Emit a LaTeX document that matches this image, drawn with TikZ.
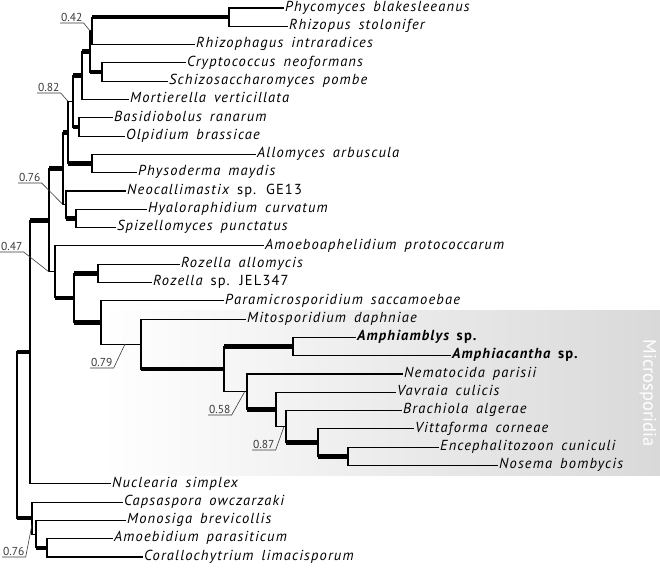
\documentclass[tikz,border=0pt]{standalone}
\usepackage{fontspec}
\setmainfont{PT Sans}
\newfontfamily\leaffont[LetterSpace=8,WordSpace=1.6]{PT Sans}
\usetikzlibrary{calc}
\definecolor{microgray}{HTML}{D9D9D9}
\definecolor{supgray}{HTML}{3A3A3A}

\begin{document}
\begin{tikzpicture}
		[x=1pt,y=-1pt,
		leaf/.style={anchor=west,inner sep=2pt,font=\leaffont\fontsize{14.5}{16}\selectfont\itshape,text height=10pt,text depth=3.5pt},
		branch/.style={line width=1.1pt,line cap=rect},
		stem/.style={line width=4.6pt},
		support/.style={anchor=south west,inner sep=1pt,text=supgray,font=\fontsize{11.5}{13}\selectfont},
		leader/.style={draw=supgray,line width=0.6pt}]
		\useasboundingbox (0,0) rectangle (660,567);

		% shaded box behind the Microsporidia
		\shade[left color=white,middle color=microgray,right color=microgray] (100,310) rectangle (660,475);
		\node[rotate=-90,text=white,font=\fontsize{18.5}{20}\selectfont] (micro) at (648,393) {Microsporidia};

		% leaves
		\node[leaf] (phy) at (283,8) {Phycomyces blakesleeanus};
		\node[leaf] (rhi) at (287,26.3) {Rhizopus stolonifer};
		\node[leaf] (rhg) at (194,44.6) {Rhizophagus intraradices};
		\node[leaf] (cry) at (185,62.9) {Cryptococcus neoformans};
		\node[leaf] (sch) at (167,81.2) {Schizosaccharomyces pombe};
		\node[leaf] (mor) at (128,99.5) {Mortierella verticillata};
		\node[leaf] (bas) at (112,117.8) {Basidiobolus ranarum};
		\node[leaf] (olp) at (124,136.1) {Olpidium brassicae};
		\node[leaf] (all) at (255,154.4) {Allomyces arbuscula};
		\node[leaf] (phs) at (136,172.7) {Physoderma maydis};
		\node[leaf] (neo) at (125,191) {Neocallimastix \upshape sp. GE13};
		\node[leaf] (hya) at (146,209.3) {Hyaloraphidium curvatum};
		\node[leaf] (spi) at (115,227.6) {Spizellomyces punctatus};
		\node[leaf] (amo) at (263,245.9) {Amoeboaphelidium protococcarum};
		\node[leaf] (roa) at (179,264.2) {Rozella allomycis};
		\node[leaf] (ros) at (151,282.5) {Rozella \upshape sp. JEL347};
		\node[leaf] (par) at (223,300.8) {Paramicrosporidium saccamoebae};
		\node[leaf] (mit) at (245,319.1) {Mitosporidium daphniae};
		\node[leaf] (amb) at (355,337.4) {\bfseries Amphiamblys \upshape sp.};
		\node[leaf] (amc) at (450,355.7) {\bfseries Amphiacantha \upshape sp.};
		\node[leaf] (nem) at (402,374) {Nematocida parisii};
		\node[leaf] (vav) at (395,392.3) {Vavraia culicis};
		\node[leaf] (bra) at (401,410.6) {Brachiola algerae};
		\node[leaf] (vit) at (413,428.9) {Vittaforma corneae};
		\node[leaf] (enc) at (438,447.2) {Encephalitozoon cuniculi};
		\node[leaf] (nos) at (497,465.5) {Nosema bombycis};
		\node[leaf] (nuc) at (110,483.8) {Nuclearia simplex};
		\node[leaf] (cap) at (122,502.1) {Capsaspora owczarzaki};
		\node[leaf] (mon) at (125,520.4) {Monosiga brevicollis};
		\node[leaf] (amp) at (112,538.7) {Amoebidium parasiticum};
		\node[leaf] (cor) at (142,557) {Corallochytrium limacisporum};

		% inner nodes of the tree
		\coordinate (pr) at (229,17.2);
		\coordinate (prr) at (92,30.9);
		\coordinate (cs) at (102,72);
		\coordinate (b1) at (90,51.5);
		\coordinate (c1) at (82,75.5);
		\coordinate (bo) at (79,127);
		\coordinate (d1) at (73,101.2);
		\coordinate (ap) at (92,163.5);
		\coordinate (e1) at (68,132.4);
		\coordinate (hs) at (76,218.5);
		\coordinate (g1) at (66,204.7);
		\coordinate (f1) at (63,168.5);
		\coordinate (rz) at (98,273.3);
		\coordinate (aa) at (293,346.5);
		\coordinate (r1) at (348,456.3);
		\coordinate (q1) at (318,442.6);
		\coordinate (p1) at (286,426.6);
		\coordinate (o1) at (276,409.5);
		\coordinate (n1) at (247,391.7);
		\coordinate (m1) at (224,369.1);
		\coordinate (l1) at (141,344.1);
		\coordinate (k1) at (101,322.5);
		\coordinate (j1) at (74,297.9);
		\coordinate (i1) at (55,271.9);
		\coordinate (h1) at (49,220.2);
		\coordinate (s1) at (30,352);
		\coordinate (am) at (47,547.9);
		\coordinate (v1) at (36,534.1);
		\coordinate (u1) at (32,518.1);
		\coordinate (root) at (17,435);

		% vertical bars of each clade
		\foreach \p/\a/\b in {pr/phy/rhi,prr/pr/rhg,b1/prr/cs,cs/cry/sch,c1/b1/mor,bo/bas/olp,
				d1/c1/bo,e1/d1/ap,ap/all/phs,f1/e1/g1,g1/neo/hs,hs/hya/spi,h1/f1/i1,i1/amo/j1,
				j1/rz/k1,rz/roa/ros,k1/par/l1,l1/mit/m1,m1/aa/n1,aa/amb/amc,n1/nem/o1,o1/vav/p1,
				p1/bra/q1,q1/vit/r1,r1/enc/nos,s1/h1/nuc,u1/cap/v1,v1/mon/am,am/amp/cor,root/s1/u1}
			\draw[branch] (\p |- \a) -- (\p |- \b);

		% thin branches
		\foreach \p/\c in {pr/phy,pr/rhi,prr/rhg,b1/prr,cs/cry,cs/sch,c1/mor,bo/bas,bo/olp,e1/d1,
				ap/all,ap/phs,g1/neo,f1/g1,hs/hya,hs/spi,i1/amo,h1/i1,rz/roa,rz/ros,k1/par,k1/l1,
				l1/mit,aa/amb,aa/amc,m1/n1,n1/nem,o1/vav,o1/p1,p1/bra,q1/vit,r1/enc,r1/nos,
				s1/nuc,u1/cap,u1/v1,v1/mon,am/amp,am/cor}
			\draw[branch] (\p |- \c) -- (\c);

		% thick branches
		\foreach \p/\c in {prr/pr,c1/b1,b1/cs,d1/c1,d1/bo,f1/e1,e1/ap,h1/f1,g1/hs,s1/h1,j1/rz,
				i1/j1,j1/k1,l1/m1,m1/aa,n1/o1,p1/q1,q1/r1,root/s1,root/u1,v1/am}
			\draw[stem] (\p |- \c) -- (\c);

		% support values
		\node[support] (s42) at (60,23) {0.42};
		\node[support] (s82) at (37,93) {0.82};
		\node[support] (s76a) at (18,183) {0.76};
		\node[support] (s47) at (0,252) {0.47};
		\node[support] (s79) at (90,368) {0.79};
		\node[support] (s58) at (208,415) {0.58};
		\node[support] (s87) at (252,450) {0.87};
		\node[support] (s76b) at (2,557) {0.76};
		\draw[leader] (s42.south west) -- (s42.south east) -- (b1 |- prr);
		\draw[leader] (s82.south west) -- (s82.south east) -- (e1 |- d1);
		\draw[leader] (s76a.south west) -- (s76a.south east) -- (f1 |- g1);
		\draw[leader] (s47.south west) -- (s47.south east) -- (h1 |- i1);
		\draw[leader] (s79.south west) -- (s79.south east) -- ($(k1 |- l1)!0.6!(l1)$);
		\draw[leader] (s58.south west) -- (s58.south east) -- ($(m1 |- n1)!0.9!(n1)$);
		\draw[leader] (s87.south west) -- (s87.south east) -- ($(o1 |- p1)!0.8!(p1)$);
		\draw[leader] (s76b.south west) -- (s76b.south east) -- ($(u1)!0.4!(u1 |- v1)$);
	\end{tikzpicture}
\end{document}
